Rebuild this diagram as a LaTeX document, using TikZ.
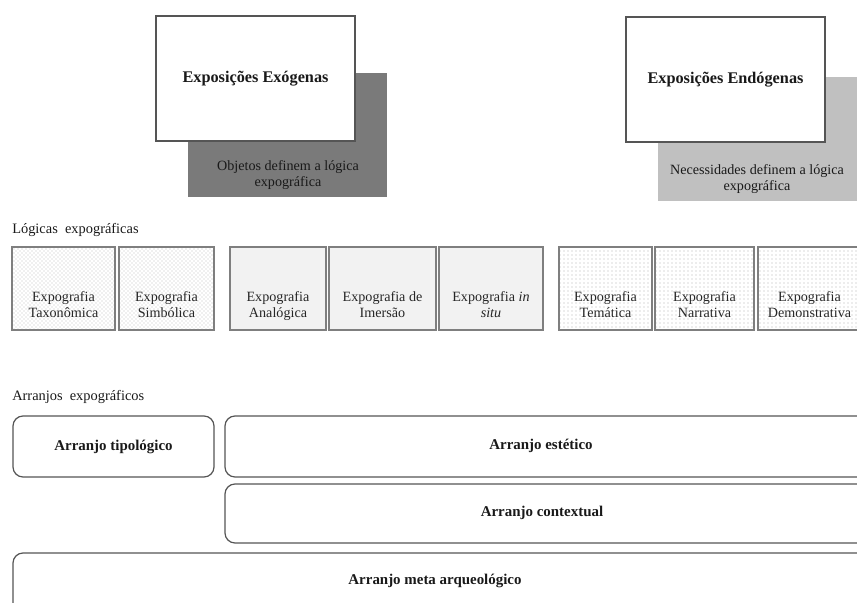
\documentclass[tikz,border=0pt]{standalone}
\usepackage{fontspec}
\setmainfont{Liberation Serif}
\usetikzlibrary{patterns}
\definecolor{shadowdark}{HTML}{7A7A7A}
\definecolor{shadowlight}{HTML}{C0C0C0}
\definecolor{boxline}{HTML}{555555}
\definecolor{logline}{HTML}{7F7F7F}
\definecolor{solidfill}{HTML}{F2F2F2}
\begin{document}
\begin{tikzpicture}[x=0.75pt,y=-0.75pt,
  nw/.style={anchor=north west, inner sep=0pt, outer sep=0pt},
  whitebox/.style={nw, draw=boxline, line width=0.9pt, fill=white},
  shadowbox/.style={nw, fill=#1},
  logbox/.style={nw, draw=logline, line width=0.9pt, minimum height=62.25pt},
  dotsA/.style={logbox, pattern=crosshatch dots, pattern color=black!26},
  solidB/.style={logbox, fill=solidfill},
  dotsC/.style={logbox, pattern=dots, pattern color=black!30},
  roundbox/.style={nw, draw=boxline, line width=0.9pt, rounded corners=7.5pt},
  titletxt/.style={font=\bfseries\fontsize{12.2}{14}\selectfont, text=black!90, inner sep=0pt},
  boldtxt/.style={font=\bfseries\fontsize{11.2}{13}\selectfont, text=black!90, inner sep=0pt},
  regtxt/.style={font=\fontsize{10.6}{12}\selectfont, align=center, text=black!85, inner sep=0pt},
  logtxt/.style={regtxt, anchor=north},
  headtxt/.style={font=\fontsize{10.8}{12}\selectfont, anchor=west, text=black!90, inner sep=0pt}
]
\useasboundingbox (0,0) rectangle (857,603);

% top: exposicoes
\node[shadowbox=shadowdark, minimum width=149.25pt, minimum height=93pt] (exoS) at (188,73) {};
\node[whitebox, minimum width=149.25pt, minimum height=93.75pt] (exoW) at (156,16) {};
\node[titletxt] (exoT) at (exoW.center) {Exposições Exógenas};
\node[regtxt, text=black!90] (exoD) at (288,175) {Objetos definem a lógica\\expográfica};

\node[shadowbox=shadowlight, minimum width=149.25pt, minimum height=93pt] (endS) at (658,77) {};
\node[whitebox, minimum width=149.25pt, minimum height=93.75pt] (endW) at (626,17) {};
\node[titletxt] (endT) at (endW.center) {Exposições Endógenas};
\node[regtxt, text=black!90] (endD) at (757,179) {Necessidades definem a lógica\\expográfica};

% logicas
\node[headtxt] (logH) at (12,230) {Lógicas\ \ expográficas};
\node[dotsA, minimum width=77.25pt] (tax) at (12,247) {};
\node[dotsA, minimum width=71.25pt] (sim) at (119,247) {};
\node[solidB, minimum width=72pt] (ana) at (230,247) {};
\node[solidB, minimum width=80.25pt] (ime) at (329,247) {};
\node[solidB, minimum width=78pt] (sit) at (439,247) {};
\node[dotsC, minimum width=69.75pt] (tem) at (559,247) {};
\node[dotsC, minimum width=74.25pt] (nar) at (655,247) {};
\node[dotsC, minimum width=77.25pt] (dem) at (758,247) {};

\node[logtxt] (taxT) at ([yshift=-2.2pt]tax.center) {Expografia\\Taxonômica};
\node[logtxt] (simT) at ([yshift=-2.2pt]sim.center) {Expografia\\Simbólica};
\node[logtxt] (anaT) at ([yshift=-2.2pt]ana.center) {Expografia\\Analógica};
\node[logtxt] (imeT) at ([yshift=-2.2pt]ime.center) {Expografia de\\Imersão};
\node[logtxt] (sitT) at ([yshift=-2.2pt]sit.center) {Expografia \textit{in}\\\textit{situ}};
\node[logtxt] (temT) at ([yshift=-2.2pt]tem.center) {Expografia\\Temática};
\node[logtxt] (narT) at ([yshift=-2.2pt]nar.center) {Expografia\\Narrativa};
\node[logtxt] (demT) at ([yshift=-2.2pt]dem.center) {Expografia\\Demonstrativa};

% arranjos
\node[headtxt] (arrH) at (12,397) {Arranjos\ \ expográficos};
\node[roundbox, minimum width=150.75pt, minimum height=45.75pt] (tip) at (13,416) {};
\node[roundbox, minimum width=495pt, minimum height=45.75pt] (est) at (225,416) {};
\node[roundbox, minimum width=495pt, minimum height=44.25pt] (ctx) at (225,484) {};
\node[roundbox, minimum width=654pt, minimum height=46.5pt] (meta) at (13,553) {};

\node[boldtxt] (tipT) at (tip.center) {Arranjo tipológico};
\node[boldtxt] (estT) at (541,446) {Arranjo estético};
\node[boldtxt] (ctxT) at (542,513) {Arranjo contextual};
\node[boldtxt] (metaT) at (435,581) {Arranjo meta arqueológico};
\end{tikzpicture}
\end{document}
